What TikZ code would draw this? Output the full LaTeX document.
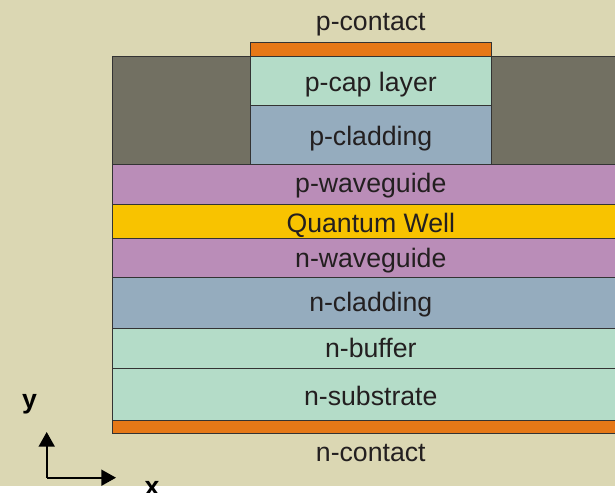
\documentclass[tikz,border=0pt]{standalone}
\usepackage{fontspec}
\setmainfont{Liberation Sans}
\usetikzlibrary{arrows.meta}
\definecolor{bgbeige}{HTML}{DBD7B3}
\definecolor{graysh}{HTML}{727062}
\definecolor{contactor}{HTML}{E67817}
\definecolor{capgreen}{HTML}{B4DCC8}
\definecolor{cladblue}{HTML}{95ACBE}
\definecolor{wgpurple}{HTML}{BA8DB8}
\definecolor{qwyellow}{HTML}{F8C300}
\definecolor{txtdark}{HTML}{231F20}
\tikzset{
  layer/.style={draw=black!80, line width=0.6pt},
  lbl/.style={anchor=base, inner sep=0pt, text=txtdark, font=\fontsize{20}{24}\selectfont},
  axlbl/.style={anchor=base, inner sep=0pt, text=black, font=\fontsize{20}{24}\selectfont\bfseries},
  axis/.style={line width=1.3pt, -{Triangle[width=12pt,length=11pt]}}
}
\begin{document}
\begin{tikzpicture}[x=0.75pt,y=-0.75pt]
\useasboundingbox (0,0) rectangle (615,493);
\clip (0,0) rectangle (615,493);
\fill[white] (0,0) rectangle (615,493);
\fill[bgbeige] (0,0) rectangle (615,485.5);
% layers
\draw[layer, fill=graysh] (112.3,56) rectangle (640,164);
\draw[layer, fill=contactor] (250.3,42.7) rectangle (491.3,56);
\draw[layer, fill=capgreen] (250.3,56) rectangle (491.3,105);
\draw[layer, fill=cladblue] (250.3,105) rectangle (491.3,164);
\draw[layer, fill=wgpurple] (112.3,164) rectangle (640,204.3);
\draw[layer, fill=qwyellow] (112.3,204.3) rectangle (640,238);
\draw[layer, fill=wgpurple] (112.3,238) rectangle (640,277.3);
\draw[layer, fill=cladblue] (112.3,277.3) rectangle (640,328.7);
\draw[layer, fill=capgreen] (112.3,328.7) rectangle (640,368.3);
\draw[layer, fill=capgreen] (112.3,368.3) rectangle (640,420);
\draw[layer, fill=contactor] (112.3,420) rectangle (640,433.3);
% labels
\node[lbl] (pcontact) at (370.8,30.7) {p-contact};
\node[lbl] (pcap) at (370.8,91.7) {p-cap layer};
\node[lbl] (pclad) at (370.8,145.5) {p-cladding};
\node[lbl] (pwg) at (370.8,192.3) {p-waveguide};
\node[lbl] (qw) at (370.8,232.7) {Quantum Well};
\node[lbl] (nwg) at (370.8,267.3) {n-waveguide};
\node[lbl] (nclad) at (370.8,311.7) {n-cladding};
\node[lbl] (nbuf) at (370.8,357.3) {n-buffer};
\node[lbl] (nsub) at (370.8,405) {n-substrate};
\node[lbl] (ncontact) at (370.8,461.7) {n-contact};
% axes
\coordinate (origin) at (46.7,477.7);
\coordinate (xtip) at (116,477.7);
\coordinate (ytip) at (46.7,432);
\draw[axis] (origin) -- (xtip);
\draw[axis] (origin) -- (ytip);
\node[axlbl] (ylbl) at (29.5,408) {y};
\node[axlbl] (xlbl) at (152,495) {x};
\end{tikzpicture}
\end{document}
